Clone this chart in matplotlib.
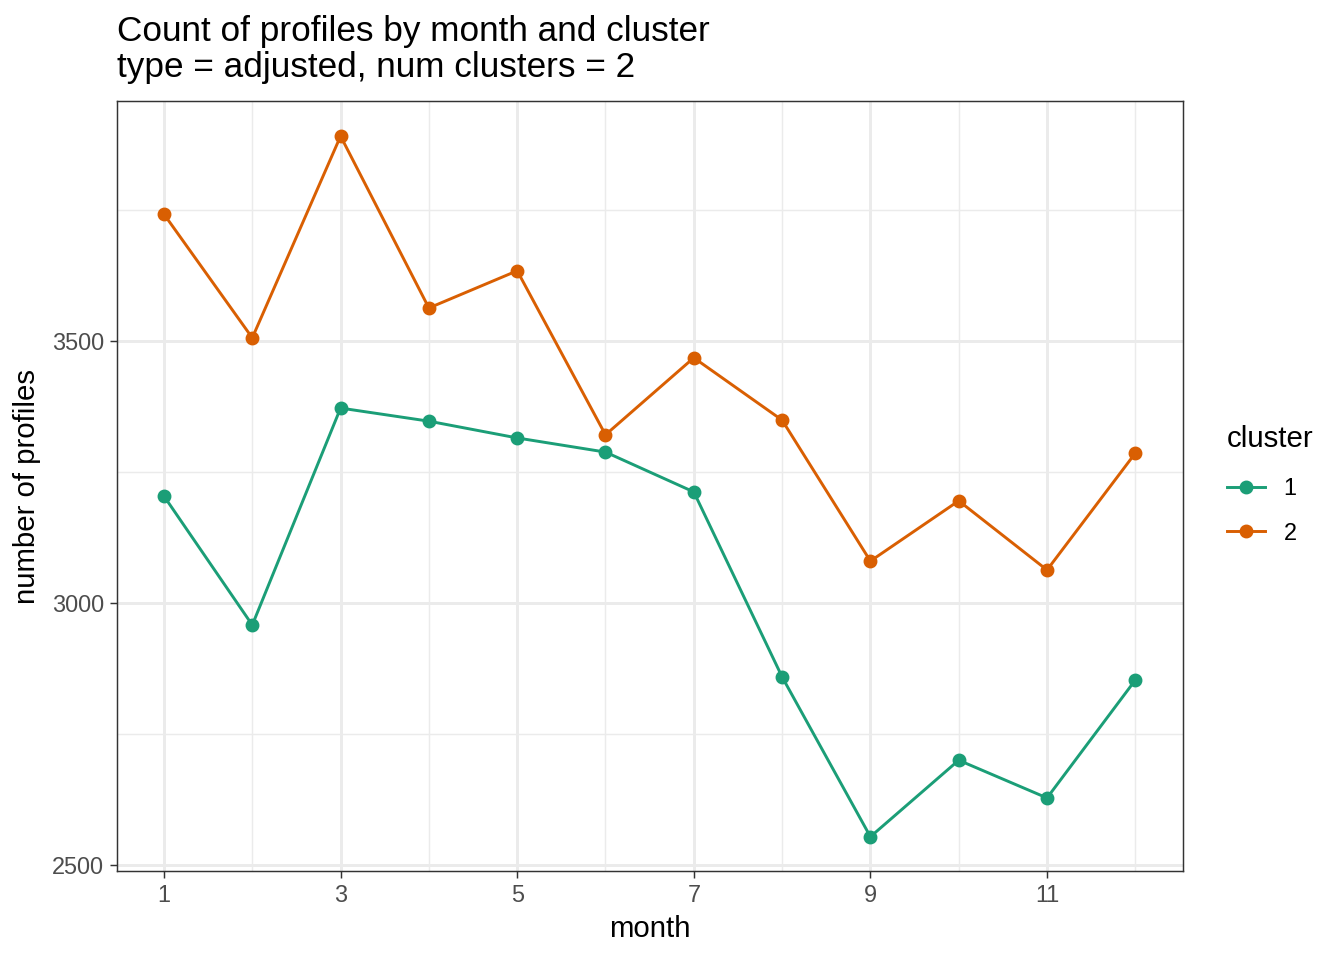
import matplotlib
matplotlib.use("Agg")
import matplotlib.pyplot as plt
from matplotlib.ticker import FixedLocator

months = [1, 2, 3, 4, 5, 6, 7, 8, 9, 10, 11, 12]
cluster1 = [3204, 2958, 3372, 3347, 3315, 3288, 3212, 2859, 2554, 2700, 2628, 2853]
cluster2 = [3742, 3506, 3891, 3563, 3634, 3321, 3468, 3349, 3080, 3195, 3063, 3286]
cluster_labels = ["1", "2"]
colors = ["#1B9E77", "#D95F02"]
xticks = [1, 3, 5, 7, 9, 11]
yticks = [2500, 3000, 3500]

plt.rcParams['font.family'] = ['Liberation Sans', 'DejaVu Sans']

fig = plt.figure(figsize=(7, 5), dpi=192)
ax = fig.add_axes([117/1344, 1-871/960, (1183-117)/1344, (871-101)/960])

for vals, col, lab in zip([cluster1, cluster2], colors, cluster_labels):
    ax.plot(months, vals, color=col, lw=1.1, marker='o', ms=4.2, label=lab, zorder=3)

ax.set_xlim(0.468, 12.54)
ax.set_ylim(2488.6, 3958)
ax.set_xticks(xticks)
ax.set_yticks(yticks)
ax.xaxis.set_minor_locator(FixedLocator([2, 4, 6, 8, 10, 12]))
ax.yaxis.set_minor_locator(FixedLocator([2750, 3250, 3750]))
ax.grid(True, which='major', color='#EBEBEB', lw=1.1, zorder=0)
ax.grid(True, which='minor', color='#EBEBEB', lw=0.55, zorder=0)
ax.set_axisbelow(True)
ax.tick_params(which='major', length=2.75, width=0.55, color='#333333',
               labelsize=8.8, labelcolor='#4D4D4D', pad=2.2)
ax.tick_params(which='minor', length=0)
for s in ax.spines.values():
    s.set_color('#333333')
    s.set_linewidth(0.55)

ax.set_xlabel("month", fontsize=11, labelpad=3)
ax.set_ylabel("number of profiles", fontsize=11, labelpad=4)

fig.text(117/1344, 1-15/960, "Count of profiles by month and cluster\ntype = adjusted, num clusters = 2",
         fontsize=13.2, ha='left', va='top', linespacing=1.13)

leg = fig.legend(loc='center left', bbox_to_anchor=(1206/1344, 1-485/960), frameon=False,
                 title="cluster", fontsize=8.8, title_fontsize=11, handlelength=1.6,
                 labelspacing=0.9, alignment='left')
leg._legend_box.sep = 9

fig.savefig("out.png", dpi=192)
